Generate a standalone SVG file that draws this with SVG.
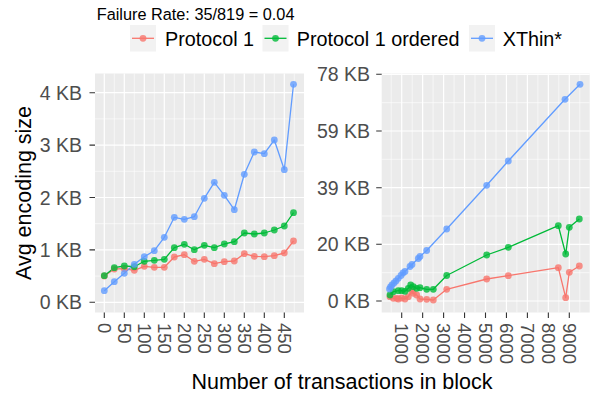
<svg xmlns="http://www.w3.org/2000/svg" width="591" height="396" viewBox="0 0 591 396">
  <style>
    text { font-family: "Liberation Sans", Arial, sans-serif; }
    .panel { fill: #EBEBEB; }
    .gmaj { stroke: #FFFFFF; stroke-width: 1.2; fill: none; }
    .gmin { stroke: #FFFFFF; stroke-width: 0.6; fill: none; }
    .tick { stroke: #333333; stroke-width: 1.1; }
    .ylab { font-size: 19.5px; fill: #4D4D4D; text-anchor: end; }
    .xlab { font-size: 18.5px; fill: #4D4D4D; }
    .atitle { font-size: 21.5px; fill: #000000; text-anchor: middle; }
    .title { font-size: 16.3px; fill: #000000; }
    .legtext { font-size: 19.8px; fill: #000000; }
    .key { fill: #F2F2F2; }
    .ln { fill: none; stroke-width: 1.3; stroke-linejoin: round; }
    .p1 { stroke: #F8766D; }
    .p1o { stroke: #00BA38; }
    .xt { stroke: #619CFF; }
    .pt1 { fill: #F8766D; fill-opacity: 0.8; }
    .pt1o { fill: #00BA38; fill-opacity: 0.8; }
    .ptx { fill: #619CFF; fill-opacity: 0.8; }
  </style>
  <defs>
    <circle id="dot" r="3.4"/>
  </defs>

  <rect width="591" height="396" fill="#FFFFFF"/>

  <text class="title" x="96.7" y="19.5">Failure Rate: 35/819 = 0.04</text>

  <!-- legend -->
  <g id="legend">
    <g id="legend-protocol1">
      <rect class="key" x="130" y="25" width="26" height="26.5"/>
      <line class="ln p1" x1="132" y1="38.3" x2="154" y2="38.3"/>
      <use href="#dot" class="pt1" x="143" y="38.3"/>
      <text class="legtext" x="165" y="45.6">Protocol 1</text>
    </g>
    <g id="legend-protocol1-ordered">
      <rect class="key" x="262.5" y="25" width="26" height="26.5"/>
      <line class="ln p1o" x1="264.5" y1="38.3" x2="286.5" y2="38.3"/>
      <use href="#dot" class="pt1o" x="275.5" y="38.3"/>
      <text class="legtext" x="296.7" y="45.6">Protocol 1 ordered</text>
    </g>
    <g id="legend-xthin">
      <rect class="key" x="469" y="25" width="26" height="26.5"/>
      <line class="ln xt" x1="471" y1="38.3" x2="493" y2="38.3"/>
      <use href="#dot" class="ptx" x="482" y="38.3"/>
      <text class="legtext" x="502.7" y="45.6">XThin*</text>
    </g>
  </g>

  <!-- left panel: small blocks -->
  <g id="panel-left">
    <rect class="panel" x="95" y="73.5" width="209" height="239"/>
    <path class="gmin" d="M95 276.1H304M95 223.7H304M95 171.3H304M95 118.9H304
      M114.3 73.5V312.5M134.3 73.5V312.5M154.3 73.5V312.5M174.3 73.5V312.5M194.3 73.5V312.5
      M214.3 73.5V312.5M234.3 73.5V312.5M254.3 73.5V312.5M274.3 73.5V312.5M294.3 73.5V312.5"/>
    <path class="gmaj" d="M95 302.3H304M95 249.9H304M95 197.5H304M95 145.1H304M95 92.7H304
      M104.3 73.5V312.5M124.3 73.5V312.5M144.3 73.5V312.5M164.3 73.5V312.5M184.3 73.5V312.5
      M204.3 73.5V312.5M224.3 73.5V312.5M244.3 73.5V312.5M264.3 73.5V312.5M284.3 73.5V312.5"/>
    <!-- axes ticks -->
    <path class="tick" d="M89.5 302.3H95M89.5 249.9H95M89.5 197.5H95M89.5 145.1H95M89.5 92.7H95
      M104.3 312.5V318M124.3 312.5V318M144.3 312.5V318M164.3 312.5V318M184.3 312.5V318
      M204.3 312.5V318M224.3 312.5V318M244.3 312.5V318M264.3 312.5V318M284.3 312.5V318"/>
    <text class="ylab" x="82" y="309.3">0 KB</text>
    <text class="ylab" x="82" y="256.9">1 KB</text>
    <text class="ylab" x="82" y="204.5">2 KB</text>
    <text class="ylab" x="82" y="152.1">3 KB</text>
    <text class="ylab" x="82" y="99.7">4 KB</text>
    <text class="xlab" transform="translate(97.7 323) rotate(90)">0</text>
    <text class="xlab" transform="translate(117.7 323) rotate(90)">50</text>
    <text class="xlab" transform="translate(137.7 323) rotate(90)">100</text>
    <text class="xlab" transform="translate(157.7 323) rotate(90)">150</text>
    <text class="xlab" transform="translate(177.7 323) rotate(90)">200</text>
    <text class="xlab" transform="translate(197.7 323) rotate(90)">250</text>
    <text class="xlab" transform="translate(217.7 323) rotate(90)">300</text>
    <text class="xlab" transform="translate(237.7 323) rotate(90)">350</text>
    <text class="xlab" transform="translate(257.7 323) rotate(90)">400</text>
    <text class="xlab" transform="translate(277.7 323) rotate(90)">450</text>
  </g>

  <!-- right panel: large blocks -->
  <g id="panel-right">
    <rect class="panel" x="381.7" y="73.5" width="208" height="239"/>
    <path class="gmin" d="M381.7 272.7H589.7M381.7 216H589.7M381.7 159.3H589.7M381.7 102.7H589.7
      M391.2 73.5V312.5M412.2 73.5V312.5M433.1 73.5V312.5M454.1 73.5V312.5M475 73.5V312.5
      M496 73.5V312.5M516.9 73.5V312.5M537.9 73.5V312.5M558.8 73.5V312.5M579.8 73.5V312.5"/>
    <path class="gmaj" d="M381.7 301H589.7M381.7 244.3H589.7M381.7 187.7H589.7M381.7 131H589.7M381.7 74.3H589.7
      M401.7 73.5V312.5M422.65 73.5V312.5M443.6 73.5V312.5M464.55 73.5V312.5M485.5 73.5V312.5
      M506.45 73.5V312.5M527.4 73.5V312.5M548.35 73.5V312.5M569.3 73.5V312.5"/>
    <path class="tick" d="M376.2 301H381.7M376.2 244.3H381.7M376.2 187.7H381.7M376.2 131H381.7M376.2 74.3H381.7
      M401.7 312.5V318M422.65 312.5V318M443.6 312.5V318M464.55 312.5V318M485.5 312.5V318
      M506.45 312.5V318M527.4 312.5V318M548.35 312.5V318M569.3 312.5V318"/>
    <text class="ylab" x="370" y="308">0 KB</text>
    <text class="ylab" x="370" y="251.3">20 KB</text>
    <text class="ylab" x="370" y="194.7">39 KB</text>
    <text class="ylab" x="370" y="138">59 KB</text>
    <text class="ylab" x="370" y="81.3">78 KB</text>
    <text class="xlab" transform="translate(395.1 323) rotate(90)">1000</text>
    <text class="xlab" transform="translate(416.05 323) rotate(90)">2000</text>
    <text class="xlab" transform="translate(437 323) rotate(90)">3000</text>
    <text class="xlab" transform="translate(457.95 323) rotate(90)">4000</text>
    <text class="xlab" transform="translate(478.9 323) rotate(90)">5000</text>
    <text class="xlab" transform="translate(499.85 323) rotate(90)">6000</text>
    <text class="xlab" transform="translate(520.8 323) rotate(90)">7000</text>
    <text class="xlab" transform="translate(541.75 323) rotate(90)">8000</text>
    <text class="xlab" transform="translate(562.7 323) rotate(90)">9000</text>
  </g>

  <!-- axis titles -->
  <text class="atitle" x="342" y="389">Number of transactions in block</text>
  <text class="atitle" transform="translate(30.5 193) rotate(-90)">Avg encoding size</text>

  <!-- series lines -->
  <g id="connectors">
    <polyline class="ln p1" points="104.3,276 114.3,269 124.3,268.7 134.3,270.3 144.3,266.3 154.3,267.3 164.3,267.3 174.3,257 184.3,254.7 194.3,261.3 204.3,259.3 214.3,263.7 224.3,261.7 234.3,261 244.3,253.7 254.3,256.3 264.3,256.7 274.3,255.7 284.3,253 293.5,241"/>
    <polyline class="ln p1o" points="104.3,275.7 114.3,267.7 124.3,266 134.3,266.7 144.3,261.3 154.3,260.3 164.3,259.3 174.3,247.7 184.3,244.3 194.3,249.7 204.3,245.3 214.3,247.7 224.3,244 234.3,241.7 244.3,233 254.3,234 264.3,233 274.3,230 284.3,226 293.5,212.7"/>
    <polyline class="ln xt" points="104.3,290.7 114.3,281.7 124.3,273.3 134.3,264.3 144.3,256.7 154.3,250.7 164.3,237.3 174.3,217.3 184.3,219.3 194.3,216.7 204.3,198.3 214.3,182.3 224.3,195.3 234.3,209.7 244.3,174.3 254.3,152 264.3,153.7 274.3,140 284.3,169.7 293.5,84.3"/>
    <polyline class="ln p1" points="390,296.7 393.3,298.3 396.7,298.3 398.3,299 401.7,298 405,299 408.3,296.7 411.7,291 413.3,293.3 416.7,295 420,299 426.7,299.3 433.3,300 446.7,289.3 486.7,279 508.3,275.7 558.3,267.7 565.7,297.7 569.3,272.3 579.3,266"/>
    <polyline class="ln p1o" points="390,295 393.3,291.7 398.3,290.7 401.7,290.7 405,291.3 408.3,288.3 410.7,285 413.3,286.7 416.7,288.3 420,287.7 426.7,289.3 433.3,289.3 446.7,275.5 486.7,255 508.3,247.3 558.3,225.7 565.7,254 569.3,227.3 579.3,219"/>
    <polyline class="ln xt" points="389.5,289 390.5,287 392,285 394,283 396,281 398.3,278.3 401,275.5 403,273 405,271.5 410,266.5 412,264.5 418.3,258.5 420,256.5 426.7,250.5 446.7,229 486.7,185.3 508.3,161 565,99.3 580,84.3"/>
  </g>

  <!-- series points -->
  <g id="points-protocol1" class="pt1">
    <use href="#dot" x="104.3" y="276"/><use href="#dot" x="114.3" y="269"/><use href="#dot" x="124.3" y="268.7"/><use href="#dot" x="134.3" y="270.3"/><use href="#dot" x="144.3" y="266.3"/><use href="#dot" x="154.3" y="267.3"/><use href="#dot" x="164.3" y="267.3"/><use href="#dot" x="174.3" y="257"/><use href="#dot" x="184.3" y="254.7"/><use href="#dot" x="194.3" y="261.3"/><use href="#dot" x="204.3" y="259.3"/><use href="#dot" x="214.3" y="263.7"/><use href="#dot" x="224.3" y="261.7"/><use href="#dot" x="234.3" y="261"/><use href="#dot" x="244.3" y="253.7"/><use href="#dot" x="254.3" y="256.3"/><use href="#dot" x="264.3" y="256.7"/><use href="#dot" x="274.3" y="255.7"/><use href="#dot" x="284.3" y="253"/><use href="#dot" x="293.5" y="241"/>
    <use href="#dot" x="390" y="296.7"/><use href="#dot" x="393.3" y="298.3"/><use href="#dot" x="396.7" y="298.3"/><use href="#dot" x="398.3" y="299"/><use href="#dot" x="401.7" y="298"/><use href="#dot" x="405" y="299"/><use href="#dot" x="408.3" y="296.7"/><use href="#dot" x="411.7" y="291"/><use href="#dot" x="413.3" y="293.3"/><use href="#dot" x="416.7" y="295"/><use href="#dot" x="420" y="299"/><use href="#dot" x="426.7" y="299.3"/><use href="#dot" x="433.3" y="300"/><use href="#dot" x="446.7" y="289.3"/><use href="#dot" x="486.7" y="279"/><use href="#dot" x="508.3" y="275.7"/><use href="#dot" x="558.3" y="267.7"/><use href="#dot" x="565.7" y="297.7"/><use href="#dot" x="569.3" y="272.3"/><use href="#dot" x="579.3" y="266"/>
  </g>
  <g id="points-protocol1-ordered" class="pt1o">
    <use href="#dot" x="104.3" y="275.7"/><use href="#dot" x="114.3" y="267.7"/><use href="#dot" x="124.3" y="266"/><use href="#dot" x="134.3" y="266.7"/><use href="#dot" x="144.3" y="261.3"/><use href="#dot" x="154.3" y="260.3"/><use href="#dot" x="164.3" y="259.3"/><use href="#dot" x="174.3" y="247.7"/><use href="#dot" x="184.3" y="244.3"/><use href="#dot" x="194.3" y="249.7"/><use href="#dot" x="204.3" y="245.3"/><use href="#dot" x="214.3" y="247.7"/><use href="#dot" x="224.3" y="244"/><use href="#dot" x="234.3" y="241.7"/><use href="#dot" x="244.3" y="233"/><use href="#dot" x="254.3" y="234"/><use href="#dot" x="264.3" y="233"/><use href="#dot" x="274.3" y="230"/><use href="#dot" x="284.3" y="226"/><use href="#dot" x="293.5" y="212.7"/>
    <use href="#dot" x="390" y="295"/><use href="#dot" x="393.3" y="291.7"/><use href="#dot" x="398.3" y="290.7"/><use href="#dot" x="401.7" y="290.7"/><use href="#dot" x="405" y="291.3"/><use href="#dot" x="408.3" y="288.3"/><use href="#dot" x="410.7" y="285"/><use href="#dot" x="413.3" y="286.7"/><use href="#dot" x="416.7" y="288.3"/><use href="#dot" x="420" y="287.7"/><use href="#dot" x="426.7" y="289.3"/><use href="#dot" x="433.3" y="289.3"/><use href="#dot" x="446.7" y="275.5"/><use href="#dot" x="486.7" y="255"/><use href="#dot" x="508.3" y="247.3"/><use href="#dot" x="558.3" y="225.7"/><use href="#dot" x="565.7" y="254"/><use href="#dot" x="569.3" y="227.3"/><use href="#dot" x="579.3" y="219"/>
  </g>
  <g id="points-xthin" class="ptx">
    <use href="#dot" x="104.3" y="290.7"/><use href="#dot" x="114.3" y="281.7"/><use href="#dot" x="124.3" y="273.3"/><use href="#dot" x="134.3" y="264.3"/><use href="#dot" x="144.3" y="256.7"/><use href="#dot" x="154.3" y="250.7"/><use href="#dot" x="164.3" y="237.3"/><use href="#dot" x="174.3" y="217.3"/><use href="#dot" x="184.3" y="219.3"/><use href="#dot" x="194.3" y="216.7"/><use href="#dot" x="204.3" y="198.3"/><use href="#dot" x="214.3" y="182.3"/><use href="#dot" x="224.3" y="195.3"/><use href="#dot" x="234.3" y="209.7"/><use href="#dot" x="244.3" y="174.3"/><use href="#dot" x="254.3" y="152"/><use href="#dot" x="264.3" y="153.7"/><use href="#dot" x="274.3" y="140"/><use href="#dot" x="284.3" y="169.7"/><use href="#dot" x="293.5" y="84.3"/>
    <use href="#dot" x="389.5" y="289"/><use href="#dot" x="390.5" y="287"/><use href="#dot" x="392" y="285"/><use href="#dot" x="394" y="283"/><use href="#dot" x="396" y="281"/><use href="#dot" x="398.3" y="278.3"/><use href="#dot" x="401" y="275.5"/><use href="#dot" x="403" y="273"/><use href="#dot" x="405" y="271.5"/><use href="#dot" x="410" y="266.5"/><use href="#dot" x="412" y="264.5"/><use href="#dot" x="418.3" y="258.5"/><use href="#dot" x="420" y="256.5"/><use href="#dot" x="426.7" y="250.5"/><use href="#dot" x="446.7" y="229"/><use href="#dot" x="486.7" y="185.3"/><use href="#dot" x="508.3" y="161"/><use href="#dot" x="565" y="99.3"/><use href="#dot" x="580" y="84.3"/>
  </g>
</svg>
